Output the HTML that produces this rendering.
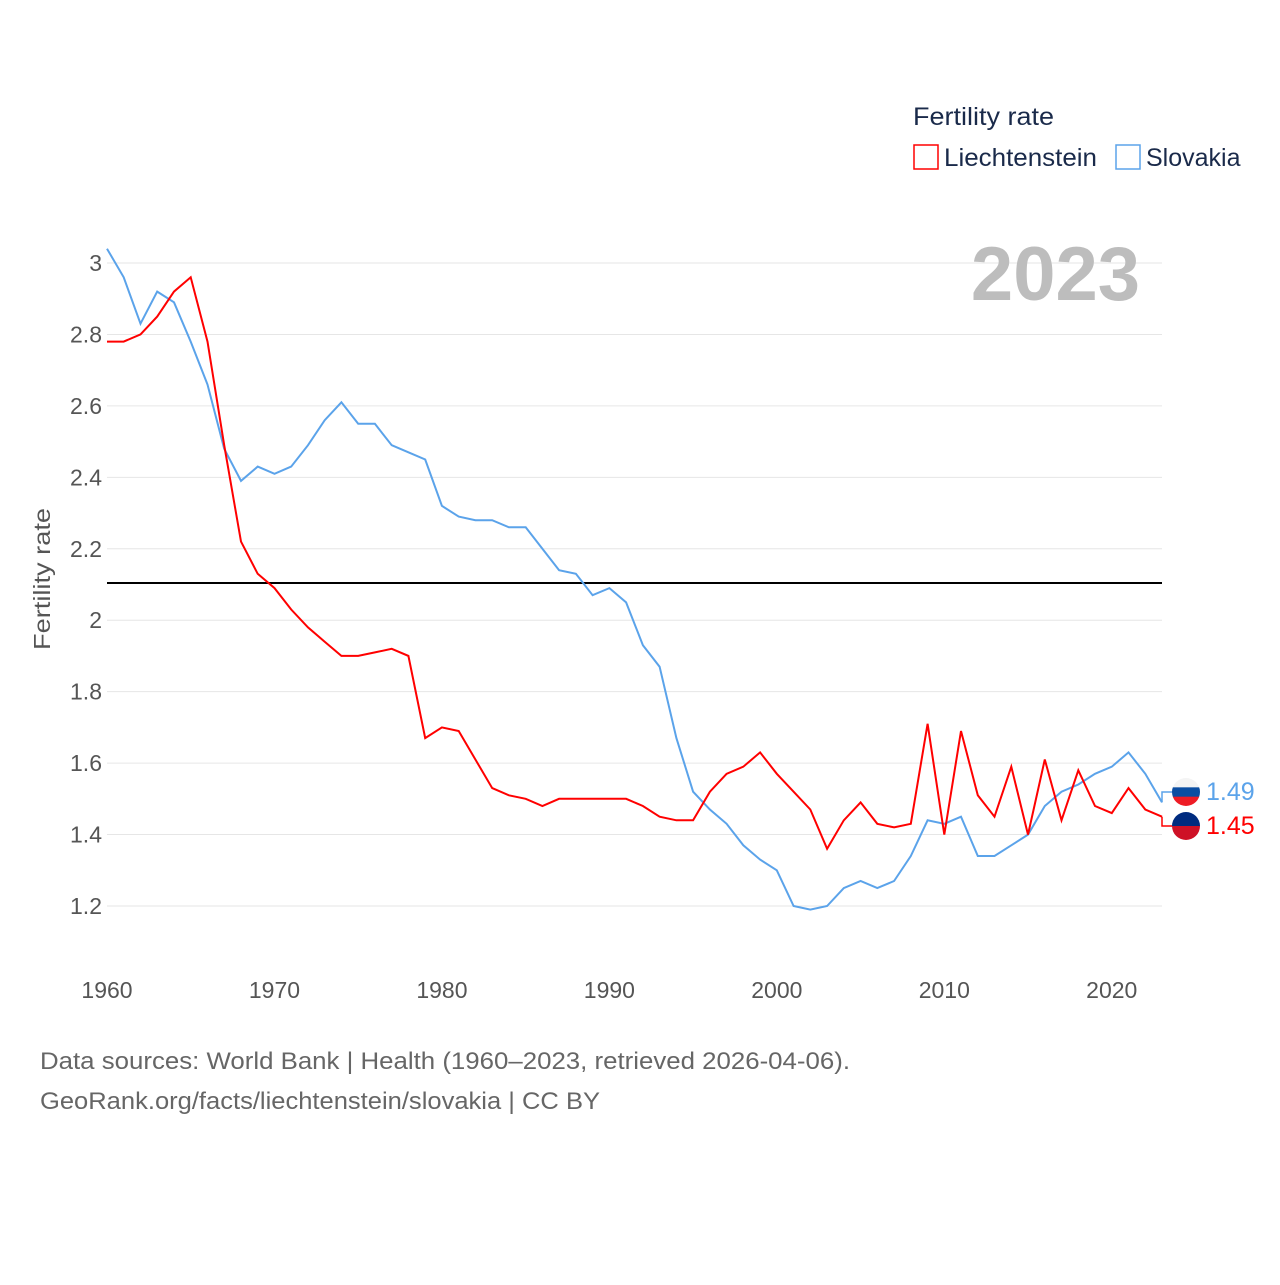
<!DOCTYPE html>
<html><head><meta charset="utf-8"><style>
body{margin:0;background:#fff;}
svg text{font-family:"Liberation Sans",sans-serif;}
</style></head><body>
<svg width="1280" height="1280" viewBox="0 0 1280 1280" xmlns="http://www.w3.org/2000/svg">
<g id="grid"></g>
<g id="yticks"></g>
<g id="xticks"></g>
<text transform="translate(50,579) rotate(-90)" text-anchor="middle" font-size="23" fill="#555" textLength="142" lengthAdjust="spacingAndGlyphs">Fertility rate</text>
<text x="1140" y="300" text-anchor="end" font-size="76" font-weight="bold" fill="#bdbdbd">2023</text>
<g>
<text x="913" y="125" font-size="25" fill="#1a2a4a" textLength="141" lengthAdjust="spacingAndGlyphs">Fertility rate</text>
<rect x="914" y="145" width="24" height="24" fill="none" stroke="#f00" stroke-width="1.5"/>
<text x="944" y="166" font-size="25" fill="#1a2a4a" textLength="153" lengthAdjust="spacingAndGlyphs">Liechtenstein</text>
<rect x="1116" y="145" width="24" height="24" fill="none" stroke="#5ba3ea" stroke-width="1.5"/>
<text x="1146" y="166" font-size="25" fill="#1a2a4a">Slovakia</text>
</g>
<line x1="107" x2="1162" y1="583" y2="583" stroke="#000" stroke-width="2"/>
<path id="svk" fill="none" stroke="#5ba3ea" stroke-width="2"/>
<path id="lie" fill="none" stroke="#f00" stroke-width="2"/>
<g id="ends"></g>
<text x="40" y="1069" font-size="24" fill="#666" textLength="810" lengthAdjust="spacingAndGlyphs">Data sources: World Bank | Health (1960–2023, retrieved 2026-04-06).</text>
<text x="40" y="1109" font-size="24" fill="#666" textLength="560" lengthAdjust="spacingAndGlyphs">GeoRank.org/facts/liechtenstein/slovakia | CC BY</text>
</svg>
<script>
const years=[];for(let y=1960;y<=2023;y++)years.push(y);
const slovakia=[3.04,2.96,2.83,2.92,2.89,2.78,2.66,2.48,2.39,2.43,2.41,2.43,2.49,2.56,2.61,2.55,2.55,2.49,2.47,2.45,2.32,2.29,2.28,2.28,2.26,2.26,2.20,2.14,2.13,2.07,2.09,2.05,1.93,1.87,1.67,1.52,1.47,1.43,1.37,1.33,1.30,1.20,1.19,1.20,1.25,1.27,1.25,1.27,1.34,1.44,1.43,1.45,1.34,1.34,1.37,1.40,1.48,1.52,1.54,1.57,1.59,1.63,1.57,1.49];
const liechtenstein=[2.78,2.78,2.80,2.85,2.92,2.96,2.78,2.49,2.22,2.13,2.09,2.03,1.98,1.94,1.90,1.90,1.91,1.92,1.90,1.67,1.70,1.69,1.61,1.53,1.51,1.50,1.48,1.50,1.50,1.50,1.50,1.50,1.48,1.45,1.44,1.44,1.52,1.57,1.59,1.63,1.57,1.52,1.47,1.36,1.44,1.49,1.43,1.42,1.43,1.71,1.40,1.69,1.51,1.45,1.59,1.40,1.61,1.44,1.58,1.48,1.46,1.53,1.47,1.45];
const yTicks=[1.2,1.4,1.6,1.8,2,2.2,2.4,2.6,2.8,3];
const xTicks=[1960,1970,1980,1990,2000,2010,2020];
const X=y=>107+(y-1960)*(1162-107)/63;
const Y=v=>263+(3-v)*(906-263)/1.8;
const NS='http://www.w3.org/2000/svg';
function mk(tag,attrs,parent,txt){const e=document.createElementNS(NS,tag);for(const k in attrs)e.setAttribute(k,attrs[k]);if(txt!==undefined)e.textContent=txt;parent.appendChild(e);return e;}
const grid=document.getElementById('grid'),yt=document.getElementById('yticks'),xt=document.getElementById('xticks');
yTicks.forEach(v=>{
 const l=mk('line',{x1:107,x2:1162,y1:Y(v),y2:Y(v),stroke:'#e6e6e6','stroke-width':1},grid);
 
 
 const t=mk('text',{x:102,y:Y(v)+8,'text-anchor':'end','font-size':23,fill:'#555'},yt,String(v));
 
 
});
xTicks.forEach(v=>{
 const t=mk('text',{x:X(v),y:998,'text-anchor':'middle','font-size':23,fill:'#555'},xt,String(v));
 
 
});
function path(arr){return arr.map((v,i)=>(i?'L':'M')+X(years[i]).toFixed(1)+','+Y(v).toFixed(1)).join('');}
document.getElementById('svk').setAttribute('d',path(slovakia));
document.getElementById('lie').setAttribute('d',path(liechtenstein));
const ends=document.getElementById('ends');
const last=years.length-1;
function endLabel(val,color,fy,stripes,name){
 const ex=X(years[last]),ey=Y(val);
 const c=mk('path',{d:`M${ex},${ey}H1162V${fy}H1172`,fill:'none',stroke:color,'stroke-width':1.5},ends);
 
 
 const g=mk('g',{},ends);
 
 
 const id='clip'+name;
 const cp=mk('clipPath',{id:id},g);mk('circle',{cx:1186,cy:fy,r:14},cp);
 const h=28/stripes.length;
 stripes.forEach((s,i)=>mk('rect',{x:1172,y:fy-14+i*h,width:28,height:h+0.5,fill:s,'clip-path':`url(#${id})`},g));
 const t=mk('text',{x:1206,y:fy+8,'font-size':25,fill:color},ends,val.toFixed(2));
 
 
}
endLabel(slovakia[last],'#5ba3ea',792,['#f4f4f4','#0b4ea2','#ee1c25'],'slovakia');
endLabel(liechtenstein[last],'#f00',826,['#002b7f','#ce1126'],'liechtenstein');
</script>
</body></html>
